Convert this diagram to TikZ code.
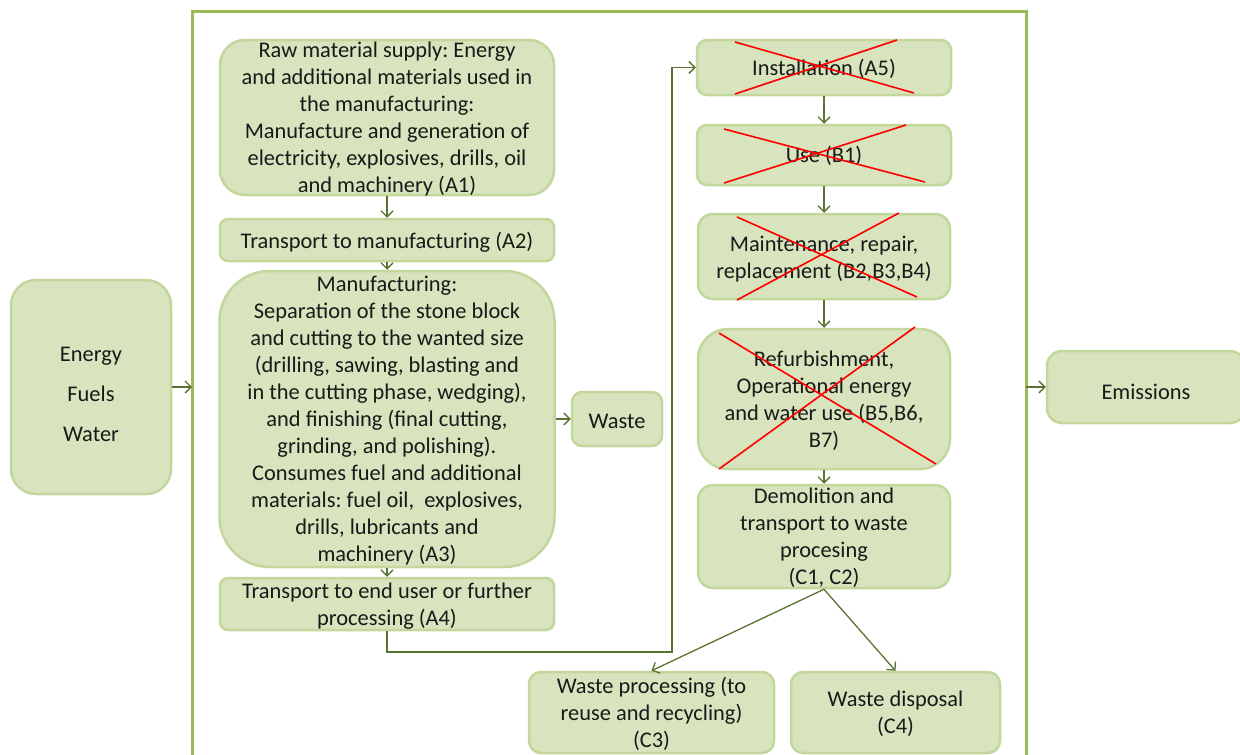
\documentclass[tikz,border=0pt]{standalone}
\usepackage{fontspec}
\setmainfont{Carlito}
\frenchspacing
\usetikzlibrary{arrows.meta}
\definecolor{boxfill}{HTML}{D7E4BD}
\definecolor{boxline}{HTML}{C3D69B}
\definecolor{framecol}{HTML}{9BBB59}
\definecolor{arrcol}{HTML}{5B7330}
\definecolor{crosscol}{HTML}{FF0000}
\newcommand{\boxtext}[2][2.5pt]{\raisebox{-#1}[\dimexpr\height-8pt\relax][\dimexpr\depth-8pt\relax]{\begin{tabular}{@{}c@{}}#2\end{tabular}}}
\begin{document}
\begin{tikzpicture}[x=1pt,y=-1pt,
  box/.style={draw=boxline, fill=boxfill, line width=2.5pt, inner sep=0pt,
    font=\fontsize{22.4}{27}\selectfont, text=black!90},
  arr/.style={draw=arrcol, line width=1.3pt, -{Straight Barb[length=6pt,width=12pt]}},
  crossline/.style={draw=crosscol, line width=1.6pt},
  frameline/.style={draw=framecol, line width=3pt}]
\useasboundingbox (0,0) rectangle (1240,755);

% outer frame
\draw[frameline] (192,760) -- (192,11) -- (1026,11) -- (1026,760);
\coordinate (fl) at (192,387);
\coordinate (fr) at (1026,387);
\coordinate (bend) at (672,652);

% nodes
\node[box, minimum width=160pt, minimum height=214pt, rounded corners=25pt] (src) at (91,387)
  {\boxtext[9pt]{Energy\\[13pt]Fuels\\[13pt]Water}};
\node[box, minimum width=334pt, minimum height=155pt, rounded corners=25pt] (a1) at (387,117.5)
  {\boxtext{Raw material supply: Energy\\and additional materials used in\\the manufacturing:\\Manufacture and generation of\\electricity, explosives, drills, oil\\and machinery (A1)}};
\node[box, minimum width=334pt, minimum height=42pt, rounded corners=8pt] (a2) at (387,240)
  {\boxtext[3pt]{Transport to manufacturing (A2)}};
\node[box, minimum width=335pt, minimum height=296pt, rounded corners=50pt] (a3) at (387,419)
  {\boxtext[2.5pt]{Manufacturing:\\Separation of the stone block\\and cutting to the wanted size\\(drilling, sawing, blasting and\\in the cutting phase, wedging),\\and finishing (final cutting,\\grinding, and polishing).\\Consumes fuel and additional\\materials: fuel oil,\ \ explosives,\\drills, lubricants and\\machinery (A3)}};
\node[box, minimum width=334pt, minimum height=52pt, rounded corners=8pt] (a4) at (387,604)
  {\boxtext{Transport to end user or further\\processing (A4)}};
\node[box, minimum width=90pt, minimum height=54pt, rounded corners=10pt] (waste) at (617,419)
  {\boxtext[4pt]{Waste}};
\node[box, minimum width=254pt, minimum height=55pt, rounded corners=10pt] (a5) at (824,67.5)
  {\boxtext{Installation (A5)}};
\node[box, minimum width=254pt, minimum height=60pt, rounded corners=10pt] (b1) at (824,155)
  {\boxtext{Use (B1)}};
\node[box, minimum width=252pt, minimum height=85pt, rounded corners=15pt] (b2) at (824,256.5)
  {\boxtext[3pt]{Maintenance, repair,\\replacement (B2,B3,B4)}};
\node[box, minimum width=252pt, minimum height=140pt, rounded corners=30pt] (b5) at (824,399)
  {\boxtext{Refurbishment,\\Operational energy\\and water use (B5,B6,\\B7)}};
\node[box, minimum width=252pt, minimum height=103pt, rounded corners=15pt] (c12) at (824,536.5)
  {\boxtext{Demolition and\\transport to waste\\procesing\\(C1, C2)}};
\node[box, minimum width=245pt, minimum height=81pt, rounded corners=12pt] (c3) at (651.5,712.5)
  {\boxtext{Waste processing (to\\reuse and recycling)\\(C3)}};
\node[box, minimum width=209pt, minimum height=81pt, rounded corners=12pt] (c4) at (895.5,712.5)
  {\boxtext{Waste disposal\\(C4)}};
\node[box, minimum width=198pt, minimum height=72pt, rounded corners=15pt] (em) at (1146,387)
  {\boxtext[7.5pt]{Emissions}};

% connectors
\draw[arr] (src) -- (fl);
\draw[arr] (fr) -- (em);
\draw[arr] (a1) -- (a2);
\draw[arr] (a2) -- (a3);
\draw[arr] (a3) -- (a4);
\draw[arr] (a3) -- (waste);
\draw[arr] (a4.south) |- (bend) |- (a5.west);
\draw[arr] (a5) -- (b1);
\draw[arr] (b1) -- (b2);
\draw[arr] (b2) -- (b5);
\draw[arr] (b5) -- (c12);
\draw[arr] (c12.south) -- (c3.north);
\draw[arr] (c12.south) -- (c4.north);

% red crosses
\draw[crossline] (735,42) -- (914,93);
\draw[crossline] (735,94) -- (897,40);
\draw[crossline] (724,129) -- (925,182);
\draw[crossline] (724,183) -- (906,125);
\draw[crossline] (737,217) -- (917,297);
\draw[crossline] (737,300) -- (899,213);
\draw[crossline] (719,333) -- (936,464);
\draw[crossline] (719,469) -- (915,327);
\end{tikzpicture}
\end{document}
